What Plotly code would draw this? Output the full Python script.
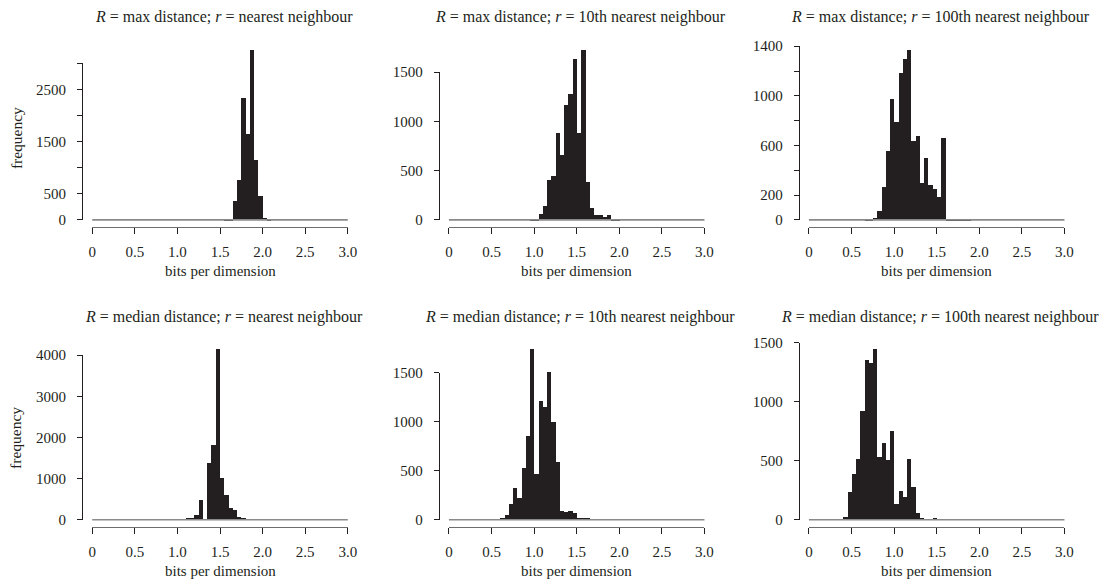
import plotly.graph_objects as go

# ---------------- data ----------------
BIN_WIDTH = 0.05
X_MIN, X_MAX = 0.0, 3.0
X_TICKS = [0, 0.5, 1.0, 1.5, 2.0, 2.5, 3.0]
X_TICK_LABELS = ["0", "0.5", "1.0", "1.5", "2.0", "2.5", "3.0"]
X_TITLE = "bits per dimension"
Y_TITLE = "frequency"

titles = [
    "<i>R</i> = max distance; <i>r</i> = nearest neighbour",
    "<i>R</i> = max distance; <i>r</i> = 10th nearest neighbour",
    "<i>R</i> = max distance; <i>r</i> = 100th nearest neighbour",
    "<i>R</i> = median distance; <i>r</i> = nearest neighbour",
    "<i>R</i> = median distance; <i>r</i> = 10th nearest neighbour",
    "<i>R</i> = median distance; <i>r</i> = 100th nearest neighbour",
]

# first bin left edge and counts per 0.05-wide bin (all other bins are 0)
max_nn_start = 1.55
max_nn_counts = [8, 15, 363, 765, 2340, 1658, 3265, 1148, 475, 50, 5]

max_10_start = 0.95
max_10_counts = [5, 13, 61, 142, 406, 447, 887, 668, 1168, 1280, 1642, 888,
                 1732, 393, 125, 58, 51, 34, 55, 10, 5]

max_100_start = 0.65
max_100_counts = [5, 9, 23, 72, 266, 557, 982, 797, 1190, 1298, 1375, 644,
                  678, 302, 506, 284, 250, 187, 665, 5, 5, 4, 4, 3, 3]

med_nn_start = 1.05
med_nn_counts = [5, 10, 25, 110, 460, 0, 1360, 1810, 4148, 1000, 594, 284,
                 227, 65, 36, 5]

med_10_start = 0.60
med_10_counts = [10, 48, 157, 324, 215, 528, 846, 1740, 467, 1207, 1145, 1504,
                 992, 583, 85, 75, 82, 61, 17, 14, 4, 3]

med_100_start = 0.40
med_100_counts = [23, 232, 382, 510, 918, 1354, 1326, 1448, 527, 646, 504, 754,
                  130, 244, 187, 516, 278, 51, 6, 2, 3, 6]

yticks_max_nn = [0, 500, 1000, 1500, 2000, 2500, 3000]
ylabels_max_nn = ["0", "500", "", "1500", "", "2500", ""]
yticks_max_10 = [0, 500, 1000, 1500]
ylabels_max_10 = ["0", "500", "1000", "1500"]
yticks_max_100 = [0, 200, 400, 600, 800, 1000, 1200, 1400]
ylabels_max_100 = ["0", "200", "", "600", "", "1000", "", "1400"]
yticks_med_nn = [0, 1000, 2000, 3000, 4000]
ylabels_med_nn = ["0", "1000", "2000", "3000", "4000"]
yticks_med_10 = [0, 500, 1000, 1500]
ylabels_med_10 = ["0", "500", "1000", "1500"]
yticks_med_100 = [0, 500, 1000, 1500]
ylabels_med_100 = ["0", "500", "1000", "1500"]

panels = [
    (max_nn_start, max_nn_counts, yticks_max_nn, ylabels_max_nn),
    (max_10_start, max_10_counts, yticks_max_10, ylabels_max_10),
    (max_100_start, max_100_counts, yticks_max_100, ylabels_max_100),
    (med_nn_start, med_nn_counts, yticks_med_nn, ylabels_med_nn),
    (med_10_start, med_10_counts, yticks_med_10, ylabels_med_10),
    (med_100_start, med_100_counts, yticks_med_100, ylabels_med_100),
]

# ---------------- layout geometry (pixels) ----------------
W, H = 1104, 579
COL_LEFT = [82, 438.7, 798.7]
PANEL_W = 276
ROW_TOP = [42.5, 342.3]
PANEL_H = 184.2
X_RANGE = [X_MIN - 0.04 * (X_MAX - X_MIN), X_MAX + 0.04 * (X_MAX - X_MIN)]

FONT = "Liberation Serif, Times New Roman, serif"
INK = "#231f20"
TICK_SIZE = 15
TEXT_SIZE = 15.5


def fx(px):
    return px / W


def fy(py):
    return 1 - py / H


fig = go.Figure()
layout = dict(
    template="none",
    width=W, height=H, margin=dict(l=0, r=0, t=0, b=0, pad=0),
    paper_bgcolor="white", plot_bgcolor="rgba(0,0,0,0)", showlegend=False,
    font=dict(family=FONT, color=INK, size=13),
    bargap=0,
)
annotations = []

for i, (start, counts, yticks, ylabels) in enumerate(panels):
    row, col = divmod(i, 3)
    left = COL_LEFT[col]
    top = ROW_TOP[row]
    bottom = top + PANEL_H
    m = max(counts)
    y_range = [-0.04 * m, 1.04 * m]

    main_x = f"x{i + 1}"
    main_y = f"y{i + 1}"
    vis_x = f"x{i + 7}"
    vis_y = f"y{i + 7}"

    centers = [start + (k + 0.5) * BIN_WIDTH for k in range(len(counts))]

    # baseline drawn by the empty bins
    fig.add_trace(go.Scatter(
        x=[X_MIN, X_MAX], y=[0, 0], mode="lines",
        line=dict(color="#8a8a8a", width=1.6),
        xaxis=main_x, yaxis=main_y, hoverinfo="skip",
    ))
    fig.add_trace(go.Bar(
        x=centers, y=counts, width=BIN_WIDTH,
        marker=dict(color=INK, line=dict(width=0)),
        xaxis=main_x, yaxis=main_y,
    ))
    fig.add_trace(go.Scatter(x=[], y=[], xaxis=vis_x, yaxis=vis_y,
                             hoverinfo="skip"))

    dom_x = [fx(left), fx(left + PANEL_W)]
    dom_y = [fy(bottom), fy(top)]
    layout[f"xaxis{i + 1}"] = dict(
        domain=dom_x, range=X_RANGE, anchor=main_y,
        visible=False, fixedrange=True, automargin=False,
    )
    layout[f"yaxis{i + 1}"] = dict(
        domain=dom_y, range=y_range, anchor=main_x,
        visible=False, fixedrange=True, automargin=False,
    )

    # R-style detached axes
    span_x = X_RANGE[1] - X_RANGE[0]
    vx0 = left + (X_MIN - X_RANGE[0]) / span_x * PANEL_W
    vx1 = left + (X_MAX - X_RANGE[0]) / span_x * PANEL_W
    span_y = y_range[1] - y_range[0]
    vy0 = bottom - (0 - y_range[0]) / span_y * PANEL_H
    vy1 = bottom - (yticks[-1] - y_range[0]) / span_y * PANEL_H

    layout[f"xaxis{i + 7}"] = dict(
        domain=[fx(vx0), fx(vx1)], range=[X_MIN, X_MAX],
        anchor="free", position=fy(bottom),
        showline=True, linecolor="#6e6e6e", linewidth=1.3,
        ticks="outside", ticklen=6, tickwidth=1, tickcolor=INK,
        tickvals=X_TICKS, ticktext=X_TICK_LABELS,
        tickfont=dict(family=FONT, size=TICK_SIZE, color=INK),
        ticklabelstandoff=5,
        showgrid=False, zeroline=False, fixedrange=True, automargin=False,
    )
    layout[f"yaxis{i + 7}"] = dict(
        domain=[fy(vy0), fy(vy1)], range=[0, yticks[-1]],
        anchor="free", position=fx(left),
        showline=True, linecolor=INK, linewidth=1,
        ticks="outside", ticklen=5, tickwidth=1, tickcolor=INK,
        tickvals=yticks, ticktext=ylabels,
        tickfont=dict(family=FONT, size=TICK_SIZE, color=INK),
        ticklabelstandoff=8,
        showgrid=False, zeroline=False, fixedrange=True, automargin=False,
    )

    # panel title
    annotations.append(dict(
        text=titles[i], xref="paper", yref="paper",
        x=fx(left + 141.5), y=fy(top - 25.5),
        xanchor="center", yanchor="middle", showarrow=False,
        font=dict(family=FONT, size=16, color=INK),
    ))
    # x-axis title
    annotations.append(dict(
        text=X_TITLE, xref="paper", yref="paper",
        x=fx((vx0 + vx1) / 2), y=fy(bottom + 44),
        xanchor="center", yanchor="middle", showarrow=False,
        font=dict(family=FONT, size=15, color=INK),
    ))
    if col == 0:
        annotations.append(dict(
            text=Y_TITLE, xref="paper", yref="paper",
            x=fx(16), y=fy(top + PANEL_H / 2 + 3.5),
            xanchor="center", yanchor="middle", showarrow=False,
            textangle=-90,
            font=dict(family=FONT, size=TEXT_SIZE, color=INK),
        ))

layout["annotations"] = annotations
fig.update_layout(**layout)
fig.write_html(
    "out.html",
    config={"displayModeBar": False},
    post_script="document.body.style.margin='0px';"
                "document.body.style.overflow='hidden';",
)
